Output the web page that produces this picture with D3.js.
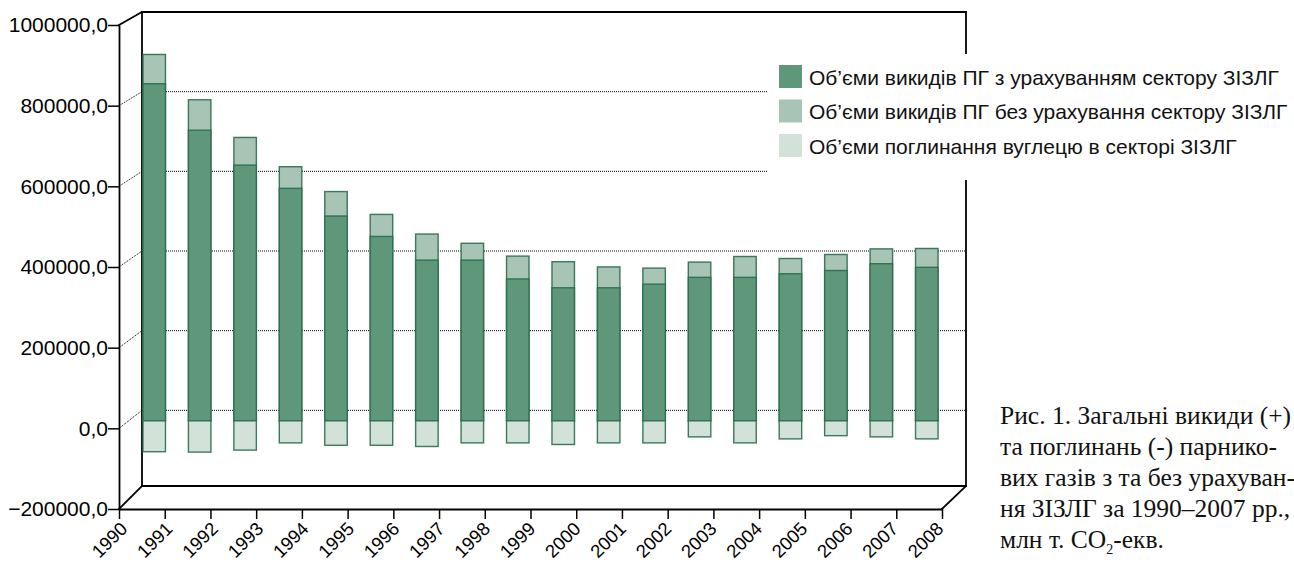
<!DOCTYPE html>
<html>
<head>
<meta charset="utf-8">
<script src="https://cdn.jsdelivr.net/npm/d3@7"></script>
<style>
  html, body { margin: 0; padding: 0; background: #fff; }
  svg { display: block; }
</style>
</head>
<body>
<svg id="chart" width="1294" height="562"></svg>
<script>
// Years shown as bars and the year labels along the floor edge
const years = [1990, 1991, 1992, 1993, 1994, 1995, 1996, 1997, 1998, 1999,
               2000, 2001, 2002, 2003, 2004, 2005, 2006, 2007];
const tickYears = [1990, 1991, 1992, 1993, 1994, 1995, 1996, 1997, 1998, 1999,
                   2000, 2001, 2002, 2003, 2004, 2005, 2006, 2007, 2008];

// GHG emissions with the LULUCF sector, thousand t CO2-eq
const emissionsWith = [841000, 725000, 638000, 580000, 511000, 460000, 401000, 401000, 354000,
                       332000, 332000, 341000, 358000, 358000, 367000, 375000, 392000, 383000];
// GHG emissions without the LULUCF sector
const emissionsWithout = [914000, 801000, 707000, 634000, 572000, 515000, 466000, 443000, 411000,
                          397000, 384000, 381000, 396000, 410000, 405000, 415000, 429000, 430000];
// Carbon removals in the LULUCF sector (negative)
const removals = [-77000, -78000, -73000, -55000, -61000, -61000, -64000, -55000, -55000,
                  -59000, -55000, -55000, -40000, -55000, -45000, -37000, -40000, -45000];

const valueTicks = [-200000, 0, 200000, 400000, 600000, 800000, 1000000];

const legendLabels = [
  "Об\u2019єми викидів ПГ з урахуванням сектору ЗІЗЛГ",
  "Об\u2019єми викидів ПГ без урахування сектору ЗІЗЛГ",
  "Об\u2019єми поглинання вуглецю в секторі ЗІЗЛГ"
];
const captionLines = [
  "Рис. 1. Загальні викиди (+)",
  "та поглинань (-) парнико-",
  "вих газів з та без урахуван-",
  "ня ЗІЗЛГ за 1990–2007 рр.,"
];

const colors = { with: "#5f977a", without: "#a7c4b5", removal: "#d3e2d9", edge: "#2a6d4c" };
const sans = "'Liberation Sans', Arial, sans-serif";

const svg = d3.select("#chart");
const numFmt = d3.formatLocale({ decimal: ",", thousands: "", grouping: [3], currency: ["", ""] }).format(".1f");

// --- 3D box geometry: front plane, back wall and depth offset ---
const depthX = 23, depthY = -23;
const yFront = d3.scaleLinear().domain([-200000, 1000000]).range([509, 25]);
const yBack = d3.scaleLinear().domain([-200000, 1000000]).range([490, 12]);
const xFront = d3.scalePoint().domain(tickYears).range([119, 942]);
const xLabel = d3.scalePoint().domain(tickYears).range([128, 944]);
const backLeft = 119 + depthX, backRight = 942 + depthX + 1;
const floorFront = yFront(-200000), floorBack = floorFront + depthY;
const wallTop = yBack(1000000);

// bars stand in a plane between front and back
const xBar = d3.scaleBand().domain(years).range([131.5, 949.5]).paddingInner(0.505).paddingOuter(0.2525);
const yBar = d3.scaleLinear().domain([-200000, 1000000]).range([501, 20]);

const frame = svg.append("g");

// gridlines on the back wall with dotted connectors on the side wall
const inner = valueTicks.filter(v => v > -200000 && v < 1000000);
frame.selectAll("line.grid").data(inner).join("line")
  .attr("x1", backLeft).attr("x2", backRight)
  .attr("y1", d => yBack(d)).attr("y2", d => yBack(d))
  .attr("stroke", "#000").attr("stroke-width", 1).attr("stroke-dasharray", "1,1");
frame.selectAll("line.side").data(inner).join("line")
  .attr("x1", 119).attr("x2", backLeft)
  .attr("y1", d => yFront(d)).attr("y2", d => yBack(d))
  .attr("stroke", "#000").attr("stroke-width", 1).attr("stroke-dasharray", "1,1");

// box outline
const edges = [
  [119, yFront(1000000), backLeft, wallTop],
  [backLeft, wallTop, backRight, wallTop],
  [backRight, wallTop, backRight, floorBack],
  [backLeft, wallTop, backLeft, floorBack],
  [backLeft, floorBack, backRight, floorBack],
  [119, floorFront, backLeft, floorBack],
  [942, floorFront, backRight, floorBack]
];
frame.selectAll("line.edge").data(edges).join("line")
  .attr("x1", d => d[0]).attr("y1", d => d[1]).attr("x2", d => d[2]).attr("y2", d => d[3])
  .attr("stroke", "#000").attr("stroke-width", 1.8).attr("stroke-linecap", "square");

// bars
const bars = svg.append("g");
const rows = years.map((y, i) => ({ year: y, w: emissionsWith[i], wo: emissionsWithout[i], r: removals[i] }));
bars.selectAll("rect.wo").data(rows).join("rect")
  .attr("x", d => xBar(d.year)).attr("width", xBar.bandwidth())
  .attr("y", d => yBar(d.wo)).attr("height", d => yBar(0) - yBar(d.wo))
  .attr("fill", colors.without).attr("stroke", colors.edge).attr("stroke-width", 1.4).attr("stroke-opacity", 0.9);
bars.selectAll("rect.w").data(rows).join("rect")
  .attr("x", d => xBar(d.year)).attr("width", xBar.bandwidth())
  .attr("y", d => yBar(d.w)).attr("height", d => yBar(0) - yBar(d.w))
  .attr("fill", colors.with).attr("stroke", colors.edge).attr("stroke-width", 1.4).attr("stroke-opacity", 0.9);
bars.selectAll("rect.r").data(rows).join("rect")
  .attr("x", d => xBar(d.year)).attr("width", xBar.bandwidth())
  .attr("y", yBar(0)).attr("height", d => yBar(d.r) - yBar(0))
  .attr("fill", colors.removal).attr("stroke", colors.edge).attr("stroke-width", 1.4).attr("stroke-opacity", 0.9);

// front value axis
const yAxis = svg.append("g").attr("transform", "translate(119,0)")
  .call(d3.axisLeft(yFront).tickValues(valueTicks).tickFormat(numFmt).tickSize(11).tickSizeOuter(0).tickPadding(0));
yAxis.select(".domain").attr("stroke", "#000").attr("stroke-width", 1.8);
yAxis.selectAll(".tick line").attr("stroke", "#000").attr("stroke-width", 1.5);
yAxis.selectAll(".tick text").attr("fill", "#000")
  .style("font-family", sans).style("font-size", "21px");

// category axis on the front floor edge
const xAxis = svg.append("g").attr("transform", `translate(0,${floorFront})`)
  .call(d3.axisBottom(xFront).tickSize(10).tickSizeOuter(0));
xAxis.select(".domain").attr("stroke", "#000").attr("stroke-width", 1.8);
xAxis.selectAll(".tick line").attr("stroke", "#000").attr("stroke-width", 1.5);
xAxis.selectAll(".tick text").attr("fill", "#000")
  .style("font-family", sans).style("font-size", "18.5px")
  .attr("text-anchor", "end").attr("dy", null).attr("y", 0)
  .attr("transform", d => `translate(${xLabel(d) - xFront(d)},21) rotate(-45)`);

// legend box over the upper right of the wall
const legend = svg.append("g");
legend.append("rect").attr("x", 768).attr("y", 54).attr("width", 526).attr("height", 126).attr("fill", "#fff");
const legendColors = [colors.with, colors.without, colors.removal];
const li = legend.selectAll("g.item").data(legendLabels).join("g")
  .attr("transform", (d, i) => `translate(779,${65 + i * 34.5})`);
li.append("rect").attr("width", 23).attr("height", 23).attr("fill", (d, i) => legendColors[i]);
li.append("text").attr("x", 30).attr("y", 12).attr("dy", "0.36em").text(d => d)
  .style("font-family", sans).style("font-size", "21px").attr("fill", "#111");

// figure caption
const cap = svg.append("g").style("font-family", "'Liberation Serif', 'Times New Roman', serif")
  .style("font-size", "25.5px").attr("fill", "#111");
cap.selectAll("text.line").data(captionLines).join("text")
  .attr("x", 1000).attr("y", (d, i) => 424 + i * 31).text(d => d);
const last = cap.append("text").attr("x", 1000).attr("y", 424 + 4 * 31);
last.append("tspan").text("млн т. CO");
last.append("tspan").text("2").attr("font-size", "14px").attr("dy", 6);
last.append("tspan").text("-екв.").attr("dy", -6);
</script>
</body>
</html>
